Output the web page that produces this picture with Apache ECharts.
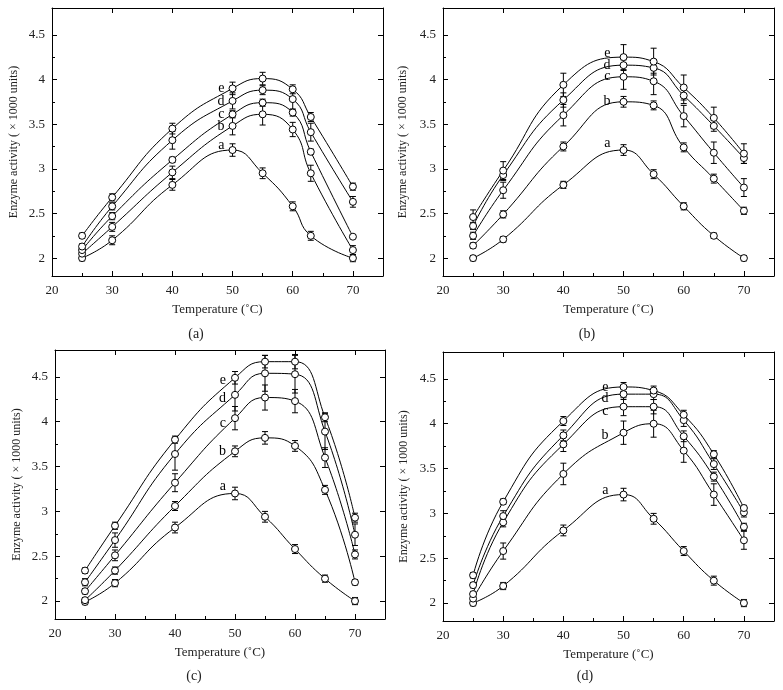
<!DOCTYPE html>
<html>
<head>
<meta charset="utf-8">
<script src="https://cdn.jsdelivr.net/npm/echarts@6/dist/echarts.min.js"></script>
<style>html,body{margin:0;padding:0;background:#fff}#c{width:783px;height:690px}</style>
</head>
<body>
<div id="c"></div>
<script>
// ---------- data ----------
const seriesNames = ['a', 'b', 'c', 'd', 'e'];
const tempsA = [25, 30, 40, 50, 55, 60, 63, 70];
const tempsBCD = [25, 30, 40, 50, 55, 60, 65, 70];
const yMajorTicks = [2, 2.5, 3, 3.5, 4, 4.5];
const yMinorTicks = [2.25, 2.75, 3.25, 3.75, 4.25];
const xMajorTicks = [20, 30, 40, 50, 60, 70];
const xMinorTicks = [25, 35, 45, 55, 65];

const valsA = [
  [2.00, 2.20, 2.82, 3.21, 2.95, 2.58, 2.25, 2.00],
  [2.05, 2.35, 2.96, 3.48, 3.61, 3.44, 2.95, 2.09],
  [2.09, 2.47, 3.10, 3.61, 3.74, 3.63, 3.19, 2.24],
  [2.13, 2.58, 3.32, 3.76, 3.88, 3.78, 3.41, 2.63],
  [2.25, 2.68, 3.45, 3.90, 4.01, 3.89, 3.58, 2.80]
];
const errsA = [
  [0.03, 0.05, 0.06, 0.07, 0.06, 0.05, 0.05, 0.04],
  [0.03, 0.05, 0.07, 0.10, 0.12, 0.08, 0.09, 0.05],
  [0.03, 0.04, 0.03, 0.04, 0.04, 0.04, 0.03, 0.02],
  [0.03, 0.04, 0.10, 0.09, 0.05, 0.12, 0.10, 0.06],
  [0.03, 0.04, 0.06, 0.07, 0.07, 0.05, 0.05, 0.04]
];
const valsB = [
  [2.00, 2.21, 2.82, 3.21, 2.94, 2.58, 2.25, 2.00],
  [2.14, 2.49, 3.25, 3.75, 3.71, 3.24, 2.89, 2.53],
  [2.25, 2.76, 3.60, 4.03, 3.98, 3.59, 3.18, 2.79],
  [2.36, 2.93, 3.77, 4.16, 4.13, 3.82, 3.48, 3.12],
  [2.46, 2.98, 3.94, 4.25, 4.20, 3.91, 3.57, 3.17]
];
const errsB = [
  [0.03, 0.03, 0.04, 0.06, 0.05, 0.04, 0.03, 0.03],
  [0.03, 0.04, 0.05, 0.06, 0.05, 0.05, 0.05, 0.04],
  [0.04, 0.09, 0.12, 0.14, 0.15, 0.12, 0.12, 0.10],
  [0.04, 0.06, 0.08, 0.06, 0.06, 0.09, 0.06, 0.06],
  [0.08, 0.10, 0.13, 0.14, 0.15, 0.14, 0.12, 0.11]
];
const valsC = [
  [1.99, 2.20, 2.82, 3.20, 2.94, 2.58, 2.25, 2.00],
  [2.01, 2.34, 3.06, 3.67, 3.82, 3.73, 3.24, 2.21],
  [2.11, 2.51, 3.32, 4.04, 4.27, 4.23, 3.60, 2.52],
  [2.21, 2.68, 3.64, 4.30, 4.54, 4.53, 3.89, 2.74],
  [2.34, 2.84, 3.80, 4.49, 4.67, 4.67, 4.05, 2.93]
];
const errsC = [
  [0.03, 0.04, 0.06, 0.07, 0.06, 0.05, 0.04, 0.04],
  [0.03, 0.04, 0.05, 0.06, 0.07, 0.06, 0.05, 0.03],
  [0.03, 0.06, 0.10, 0.13, 0.14, 0.13, 0.11, 0.05],
  [0.04, 0.08, 0.18, 0.18, 0.20, 0.21, 0.20, 0.12],
  [0.03, 0.04, 0.04, 0.07, 0.07, 0.08, 0.05, 0.05]
];
const valsD = [
  [2.00, 2.19, 2.81, 3.21, 2.94, 2.58, 2.25, 2.00],
  [2.05, 2.58, 3.44, 3.90, 4.00, 3.70, 3.21, 2.70],
  [2.10, 2.90, 3.77, 4.19, 4.19, 3.86, 3.41, 2.85],
  [2.20, 2.97, 3.87, 4.33, 4.33, 4.04, 3.55, 3.01],
  [2.31, 3.13, 4.03, 4.41, 4.37, 4.10, 3.66, 3.06]
];
const errsD = [
  [0.03, 0.04, 0.06, 0.07, 0.06, 0.05, 0.05, 0.04],
  [0.03, 0.09, 0.12, 0.13, 0.15, 0.13, 0.12, 0.10],
  [0.03, 0.05, 0.08, 0.10, 0.08, 0.06, 0.05, 0.04],
  [0.03, 0.06, 0.06, 0.06, 0.06, 0.07, 0.06, 0.05],
  [0.03, 0.03, 0.05, 0.05, 0.05, 0.05, 0.04, 0.03]
];
const panelCaptions = ['(a)', '(b)', '(c)', '(d)'];
const xTitle = 'Temperature (\u02DAC)';
const yTitle = 'Enzyme activity ( \u00D7 1000 units)';

// ---------- layout / style ----------
const FONT = '"Liberation Serif", "DejaVu Serif", serif';
const panels = [
  { temps: tempsA, vals: valsA, errs: errsA, grid: { left: 52, top: 8, width: 331, height: 268 },
    yGap: 32, labDist: 4, labDy: [-5, 0, 0, 0, 0], cap: [196, 334] },
  { temps: tempsBCD, vals: valsB, errs: errsB, grid: { left: 443, top: 8, width: 331, height: 268 },
    yGap: 34, labDist: 9, labDy: [-7, 0, 0, 0, -4], cap: [587, 334] },
  { temps: tempsBCD, vals: valsC, errs: errsC, grid: { left: 55, top: 350, width: 330, height: 269 },
    yGap: 32, labDist: 5, labDy: [-7, 0, 5, 3, 3], cap: [194, 676] },
  { temps: tempsBCD, vals: valsD, errs: errsD, grid: { left: 443, top: 352, width: 331, height: 269 },
    yGap: 33, labDist: 11, labDy: [-4, 3, 5, 4, 0], cap: [585, 676] }
];

const grids = [], xAxes = [], yAxes = [], series = [], graphics = [];
const lineStyleAxis = { color: '#000', width: 1 };
const labelStyle = { color: '#222', fontFamily: FONT, fontSize: 13 };

panels.forEach((p, gi) => {
  grids.push(Object.assign({}, p.grid));
  const xb = xAxes.length;
  xAxes.push({ gridIndex: gi, type: 'value', position: 'bottom', min: 20, max: 75,
    axisLine: { show: true, onZero: false, lineStyle: lineStyleAxis },
    axisTick: { show: true, inside: true, length: 5, customValues: xMajorTicks.slice(1), lineStyle: lineStyleAxis },
    axisLabel: Object.assign({ show: true, margin: 8, customValues: xMajorTicks }, labelStyle),
    splitLine: { show: false },
    name: xTitle, nameLocation: 'middle', nameGap: 27,
    nameTextStyle: { color: '#222', fontFamily: FONT, fontSize: 13 } });
  xAxes.push({ gridIndex: gi, type: 'value', position: 'bottom', min: 20, max: 75,
    axisLine: { show: false, onZero: false },
    axisTick: { show: true, inside: true, length: 3, customValues: xMinorTicks, lineStyle: lineStyleAxis },
    axisLabel: { show: false }, splitLine: { show: false } });
  xAxes.push({ gridIndex: gi, type: 'value', position: 'top', min: 20, max: 75,
    axisLine: { show: true, onZero: false, lineStyle: lineStyleAxis },
    axisTick: { show: true, inside: true, length: 5, customValues: xMajorTicks.slice(1), lineStyle: lineStyleAxis },
    axisLabel: { show: false }, splitLine: { show: false } });

  const yl = yAxes.length;
  yAxes.push({ gridIndex: gi, type: 'value', position: 'left', min: 1.8, max: 4.8,
    axisLine: { show: true, onZero: false, lineStyle: lineStyleAxis },
    axisTick: { show: true, inside: true, length: 5, customValues: yMajorTicks, lineStyle: lineStyleAxis },
    axisLabel: Object.assign({ show: true, margin: 7, customValues: yMajorTicks }, labelStyle),
    splitLine: { show: false },
    name: yTitle, nameLocation: 'middle', nameGap: p.yGap,
    nameTextStyle: { color: '#222', fontFamily: FONT, fontSize: 12 } });
  yAxes.push({ gridIndex: gi, type: 'value', position: 'left', min: 1.8, max: 4.8,
    axisLine: { show: false, onZero: false },
    axisTick: { show: true, inside: true, length: 3, customValues: yMinorTicks, lineStyle: lineStyleAxis },
    axisLabel: { show: false }, splitLine: { show: false } });
  yAxes.push({ gridIndex: gi, type: 'value', position: 'right', min: 1.8, max: 4.8,
    axisLine: { show: true, onZero: false, lineStyle: lineStyleAxis },
    axisTick: { show: true, inside: true, length: 5, customValues: yMajorTicks, lineStyle: lineStyleAxis },
    axisLabel: { show: false }, splitLine: { show: false } });

  seriesNames.forEach((nm, si) => {
    const errData = p.temps.map((t, k) => [t, p.vals[si][k] - p.errs[si][k], p.vals[si][k] + p.errs[si][k]]);
    series.push({
      type: 'custom', xAxisIndex: xb, yAxisIndex: yl, z: 2, silent: true,
      encode: { x: 0, y: [1, 2] },
      data: errData,
      renderItem: function (params, api) {
        const x = api.value(0);
        const lo = api.coord([x, api.value(1)]);
        const hi = api.coord([x, api.value(2)]);
        const hw = 3;
        const st = { stroke: '#000', lineWidth: 1 };
        return { type: 'group', children: [
          { type: 'line', shape: { x1: lo[0], y1: lo[1], x2: hi[0], y2: hi[1] }, style: st },
          { type: 'line', shape: { x1: lo[0] - hw, y1: lo[1], x2: lo[0] + hw, y2: lo[1] }, style: st },
          { type: 'line', shape: { x1: hi[0] - hw, y1: hi[1], x2: hi[0] + hw, y2: hi[1] }, style: st }
        ] };
      }
    });
    const lineData = p.temps.map((t, k) => {
      const item = { value: [t, p.vals[si][k]] };
      if (t === 50) {
        item.label = { show: true, formatter: nm, position: 'left', distance: p.labDist,
          offset: [0, p.labDy[si]], color: '#000', fontFamily: FONT, fontSize: 14 };
      }
      return item;
    });
    series.push({
      type: 'line', name: nm, xAxisIndex: xb, yAxisIndex: yl, z: 3,
      smooth: 0.5, symbol: 'circle', symbolSize: 7, showAllSymbol: true,
      lineStyle: { color: '#000', width: 1 },
      itemStyle: { color: '#fff', borderColor: '#000', borderWidth: 1 },
      label: { show: false },
      emphasis: { disabled: true },
      data: lineData
    });
  });

  graphics.push({ type: 'text', x: p.cap[0], y: p.cap[1],
    style: { text: panelCaptions[gi], fill: '#222', font: '14px ' + FONT, textAlign: 'center', textVerticalAlign: 'middle' } });
});

const chart = echarts.init(document.getElementById('c'), null, { renderer: 'canvas' });
chart.setOption({
  backgroundColor: '#fff',
  animation: false,
  grid: grids,
  xAxis: xAxes,
  yAxis: yAxes,
  series: series,
  graphic: graphics
});
</script>
</body>
</html>
